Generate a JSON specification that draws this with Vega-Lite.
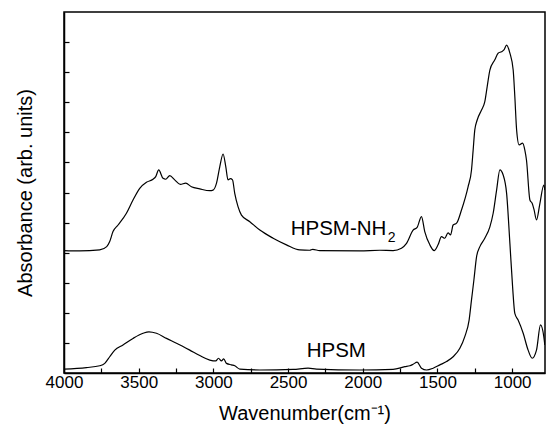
{
  "$schema": "https://vega.github.io/schema/vega-lite/v6.json",
  "width": 481,
  "height": 361,
  "autosize": "none",
  "padding": {"left": 64, "top": 12, "right": 3, "bottom": 67},
  "background": "white",
  "config": {
    "view": {"stroke": "black", "strokeWidth": 1.5},
    "font": "Liberation Sans",
    "axis": {"labelFont": "Liberation Sans", "titleFont": "Liberation Sans", "labelColor": "black", "titleColor": "black", "titleFontWeight": "normal", "domainColor": "black", "domainWidth": 1.5, "tickColor": "black", "tickWidth": 1.2, "tickSize": -5, "grid": false}
  },
  "datasets": {
    "spectra": [
      {"series": "HPSM-NH2", "wn": 4000, "a": 4.07},
      {"series": "HPSM-NH2", "wn": 3895, "a": 4.06},
      {"series": "HPSM-NH2", "wn": 3761, "a": 4.09},
      {"series": "HPSM-NH2", "wn": 3714, "a": 4.2},
      {"series": "HPSM-NH2", "wn": 3694, "a": 4.37},
      {"series": "HPSM-NH2", "wn": 3672, "a": 4.7},
      {"series": "HPSM-NH2", "wn": 3638, "a": 4.92},
      {"series": "HPSM-NH2", "wn": 3582, "a": 5.31},
      {"series": "HPSM-NH2", "wn": 3538, "a": 5.75},
      {"series": "HPSM-NH2", "wn": 3493, "a": 6.14},
      {"series": "HPSM-NH2", "wn": 3448, "a": 6.34},
      {"series": "HPSM-NH2", "wn": 3404, "a": 6.44},
      {"series": "HPSM-NH2", "wn": 3386, "a": 6.53},
      {"series": "HPSM-NH2", "wn": 3366, "a": 6.75},
      {"series": "HPSM-NH2", "wn": 3337, "a": 6.47},
      {"series": "HPSM-NH2", "wn": 3319, "a": 6.44},
      {"series": "HPSM-NH2", "wn": 3292, "a": 6.56},
      {"series": "HPSM-NH2", "wn": 3259, "a": 6.42},
      {"series": "HPSM-NH2", "wn": 3221, "a": 6.27},
      {"series": "HPSM-NH2", "wn": 3185, "a": 6.31},
      {"series": "HPSM-NH2", "wn": 3147, "a": 6.19},
      {"series": "HPSM-NH2", "wn": 3091, "a": 6.12},
      {"series": "HPSM-NH2", "wn": 3024, "a": 6.06},
      {"series": "HPSM-NH2", "wn": 3002, "a": 6.08},
      {"series": "HPSM-NH2", "wn": 2979, "a": 6.31},
      {"series": "HPSM-NH2", "wn": 2957, "a": 6.86},
      {"series": "HPSM-NH2", "wn": 2935, "a": 7.28},
      {"series": "HPSM-NH2", "wn": 2917, "a": 6.86},
      {"series": "HPSM-NH2", "wn": 2902, "a": 6.42},
      {"series": "HPSM-NH2", "wn": 2886, "a": 6.46},
      {"series": "HPSM-NH2", "wn": 2872, "a": 6.42},
      {"series": "HPSM-NH2", "wn": 2857, "a": 5.97},
      {"series": "HPSM-NH2", "wn": 2835, "a": 5.53},
      {"series": "HPSM-NH2", "wn": 2812, "a": 5.25},
      {"series": "HPSM-NH2", "wn": 2756, "a": 5.03},
      {"series": "HPSM-NH2", "wn": 2689, "a": 4.75},
      {"series": "HPSM-NH2", "wn": 2600, "a": 4.48},
      {"series": "HPSM-NH2", "wn": 2511, "a": 4.26},
      {"series": "HPSM-NH2", "wn": 2422, "a": 4.09},
      {"series": "HPSM-NH2", "wn": 2355, "a": 4.08},
      {"series": "HPSM-NH2", "wn": 2335, "a": 4.11},
      {"series": "HPSM-NH2", "wn": 2288, "a": 4.07},
      {"series": "HPSM-NH2", "wn": 2020, "a": 4.06},
      {"series": "HPSM-NH2", "wn": 1886, "a": 4.08},
      {"series": "HPSM-NH2", "wn": 1797, "a": 4.07},
      {"series": "HPSM-NH2", "wn": 1741, "a": 4.15},
      {"series": "HPSM-NH2", "wn": 1707, "a": 4.31},
      {"series": "HPSM-NH2", "wn": 1663, "a": 4.75},
      {"series": "HPSM-NH2", "wn": 1636, "a": 4.84},
      {"series": "HPSM-NH2", "wn": 1607, "a": 5.2},
      {"series": "HPSM-NH2", "wn": 1585, "a": 4.7},
      {"series": "HPSM-NH2", "wn": 1551, "a": 4.26},
      {"series": "HPSM-NH2", "wn": 1522, "a": 4.07},
      {"series": "HPSM-NH2", "wn": 1496, "a": 4.26},
      {"series": "HPSM-NH2", "wn": 1473, "a": 4.53},
      {"series": "HPSM-NH2", "wn": 1451, "a": 4.48},
      {"series": "HPSM-NH2", "wn": 1429, "a": 4.66},
      {"series": "HPSM-NH2", "wn": 1412, "a": 4.59},
      {"series": "HPSM-NH2", "wn": 1395, "a": 4.92},
      {"series": "HPSM-NH2", "wn": 1372, "a": 4.98},
      {"series": "HPSM-NH2", "wn": 1339, "a": 5.42},
      {"series": "HPSM-NH2", "wn": 1295, "a": 6.19},
      {"series": "HPSM-NH2", "wn": 1272, "a": 6.75},
      {"series": "HPSM-NH2", "wn": 1261, "a": 7.41},
      {"series": "HPSM-NH2", "wn": 1250, "a": 8.08},
      {"series": "HPSM-NH2", "wn": 1234, "a": 8.41},
      {"series": "HPSM-NH2", "wn": 1205, "a": 8.74},
      {"series": "HPSM-NH2", "wn": 1183, "a": 9.02},
      {"series": "HPSM-NH2", "wn": 1167, "a": 9.52},
      {"series": "HPSM-NH2", "wn": 1149, "a": 10.07},
      {"series": "HPSM-NH2", "wn": 1116, "a": 10.41},
      {"series": "HPSM-NH2", "wn": 1094, "a": 10.63},
      {"series": "HPSM-NH2", "wn": 1071, "a": 10.68},
      {"series": "HPSM-NH2", "wn": 1055, "a": 10.74},
      {"series": "HPSM-NH2", "wn": 1037, "a": 10.9},
      {"series": "HPSM-NH2", "wn": 1015, "a": 10.63},
      {"series": "HPSM-NH2", "wn": 993, "a": 10.07},
      {"series": "HPSM-NH2", "wn": 982, "a": 9.19},
      {"series": "HPSM-NH2", "wn": 970, "a": 8.08},
      {"series": "HPSM-NH2", "wn": 953, "a": 7.58},
      {"series": "HPSM-NH2", "wn": 930, "a": 7.64},
      {"series": "HPSM-NH2", "wn": 915, "a": 7.41},
      {"series": "HPSM-NH2", "wn": 904, "a": 7.08},
      {"series": "HPSM-NH2", "wn": 881, "a": 5.75},
      {"series": "HPSM-NH2", "wn": 866, "a": 5.64},
      {"series": "HPSM-NH2", "wn": 853, "a": 5.42},
      {"series": "HPSM-NH2", "wn": 837, "a": 5.09},
      {"series": "HPSM-NH2", "wn": 814, "a": 5.64},
      {"series": "HPSM-NH2", "wn": 788, "a": 6.25},
      {"series": "HPSM-NH2", "wn": 781, "a": 6.08},
      {"series": "HPSM", "wn": 4000, "a": 0.13},
      {"series": "HPSM", "wn": 3850, "a": 0.18},
      {"series": "HPSM", "wn": 3761, "a": 0.24},
      {"series": "HPSM", "wn": 3727, "a": 0.32},
      {"series": "HPSM", "wn": 3694, "a": 0.54},
      {"series": "HPSM", "wn": 3660, "a": 0.76},
      {"series": "HPSM", "wn": 3605, "a": 0.93},
      {"series": "HPSM", "wn": 3538, "a": 1.15},
      {"series": "HPSM", "wn": 3471, "a": 1.32},
      {"series": "HPSM", "wn": 3431, "a": 1.37},
      {"series": "HPSM", "wn": 3381, "a": 1.32},
      {"series": "HPSM", "wn": 3314, "a": 1.15},
      {"series": "HPSM", "wn": 3247, "a": 0.99},
      {"series": "HPSM", "wn": 3158, "a": 0.76},
      {"series": "HPSM", "wn": 3091, "a": 0.58},
      {"series": "HPSM", "wn": 3024, "a": 0.43},
      {"series": "HPSM", "wn": 2984, "a": 0.4},
      {"series": "HPSM", "wn": 2966, "a": 0.49},
      {"series": "HPSM", "wn": 2946, "a": 0.4},
      {"series": "HPSM", "wn": 2931, "a": 0.47},
      {"series": "HPSM", "wn": 2912, "a": 0.32},
      {"series": "HPSM", "wn": 2879, "a": 0.27},
      {"series": "HPSM", "wn": 2857, "a": 0.24},
      {"series": "HPSM", "wn": 2823, "a": 0.13},
      {"series": "HPSM", "wn": 2689, "a": 0.1},
      {"series": "HPSM", "wn": 2466, "a": 0.12},
      {"series": "HPSM", "wn": 2366, "a": 0.16},
      {"series": "HPSM", "wn": 2310, "a": 0.13},
      {"series": "HPSM", "wn": 2020, "a": 0.1},
      {"series": "HPSM", "wn": 1797, "a": 0.12},
      {"series": "HPSM", "wn": 1718, "a": 0.21},
      {"series": "HPSM", "wn": 1685, "a": 0.24},
      {"series": "HPSM", "wn": 1663, "a": 0.29},
      {"series": "HPSM", "wn": 1636, "a": 0.36},
      {"series": "HPSM", "wn": 1607, "a": 0.16},
      {"series": "HPSM", "wn": 1573, "a": 0.1},
      {"series": "HPSM", "wn": 1529, "a": 0.16},
      {"series": "HPSM", "wn": 1484, "a": 0.27},
      {"series": "HPSM", "wn": 1439, "a": 0.38},
      {"series": "HPSM", "wn": 1395, "a": 0.54},
      {"series": "HPSM", "wn": 1350, "a": 0.82},
      {"series": "HPSM", "wn": 1317, "a": 1.21},
      {"series": "HPSM", "wn": 1288, "a": 1.76},
      {"series": "HPSM", "wn": 1272, "a": 2.43},
      {"series": "HPSM", "wn": 1256, "a": 3.09},
      {"series": "HPSM", "wn": 1238, "a": 3.87},
      {"series": "HPSM", "wn": 1216, "a": 4.2},
      {"series": "HPSM", "wn": 1183, "a": 4.48},
      {"series": "HPSM", "wn": 1149, "a": 4.86},
      {"series": "HPSM", "wn": 1127, "a": 5.31},
      {"series": "HPSM", "wn": 1104, "a": 6.08},
      {"series": "HPSM", "wn": 1082, "a": 6.75},
      {"series": "HPSM", "wn": 1060, "a": 6.58},
      {"series": "HPSM", "wn": 1037, "a": 5.97},
      {"series": "HPSM", "wn": 1015, "a": 4.31},
      {"series": "HPSM", "wn": 997, "a": 2.87},
      {"series": "HPSM", "wn": 982, "a": 1.98},
      {"series": "HPSM", "wn": 960, "a": 1.76},
      {"series": "HPSM", "wn": 926, "a": 1.32},
      {"series": "HPSM", "wn": 893, "a": 0.76},
      {"series": "HPSM", "wn": 866, "a": 0.49},
      {"series": "HPSM", "wn": 837, "a": 0.76},
      {"series": "HPSM", "wn": 810, "a": 1.6},
      {"series": "HPSM", "wn": 788, "a": 1.21},
      {"series": "HPSM", "wn": 781, "a": 0.93}
    ],
    "labels": [
      {"label": "HPSM-NH", "wn": 1842, "a": 4.59},
      {"label": "HPSM", "wn": 2177, "a": 0.53}
    ],
    "subs": [
      {"label": "2", "wn": 1832, "a": 4.36}
    ]
  },
  "layer": [
    {
      "data": {"name": "spectra"},
      "mark": {"type": "line", "color": "black", "strokeWidth": 1.2, "interpolate": "monotone", "clip": true},
      "encoding": {
        "x": {"field": "wn", "type": "quantitative", "scale": {"domain": [4000, 780], "nice": false, "zero": false},
          "axis": {"title": "Wavenumber(cm⁻¹)", "values": [4000, 3750, 3500, 3250, 3000, 2750, 2500, 2250, 2000, 1750, 1500, 1250, 1000], "tickCount": 40, "labelExpr": "datum.value % 500 === 0 ? datum.value : ''", "labelFontSize": 17, "titleFontSize": 20, "labelPadding": 6, "titlePadding": 13, "labelFlush": false, "labelOverlap": false}},
        "y": {"field": "a", "type": "quantitative", "scale": {"domain": [0, 12], "nice": false},
          "axis": {"title": "Absorbance (arb. units)", "values": [1, 2, 3, 4, 5, 6, 7, 8, 9, 10, 11], "tickCount": 40, "labels": false, "titleFontSize": 20, "titlePadding": 28}},
        "detail": {"field": "series"}
      }
    },
    {
      "data": {"name": "labels"},
      "mark": {"type": "text", "fontSize": 20.5, "color": "black", "align": "right", "baseline": "alphabetic"},
      "transform": [{"filter": "datum.label === 'HPSM-NH'"}],
      "encoding": {
        "x": {"field": "wn", "type": "quantitative"},
        "y": {"field": "a", "type": "quantitative"},
        "text": {"field": "label"}
      }
    },
    {
      "data": {"name": "labels"},
      "mark": {"type": "text", "fontSize": 20.5, "color": "black", "align": "center", "baseline": "alphabetic"},
      "transform": [{"filter": "datum.label === 'HPSM'"}],
      "encoding": {
        "x": {"field": "wn", "type": "quantitative"},
        "y": {"field": "a", "type": "quantitative"},
        "text": {"field": "label"}
      }
    },
    {
      "data": {"name": "subs"},
      "mark": {"type": "text", "fontSize": 14, "color": "black", "align": "left", "baseline": "alphabetic"},
      "encoding": {
        "x": {"field": "wn", "type": "quantitative"},
        "y": {"field": "a", "type": "quantitative"},
        "text": {"field": "label"}
      }
    }
  ]
}
